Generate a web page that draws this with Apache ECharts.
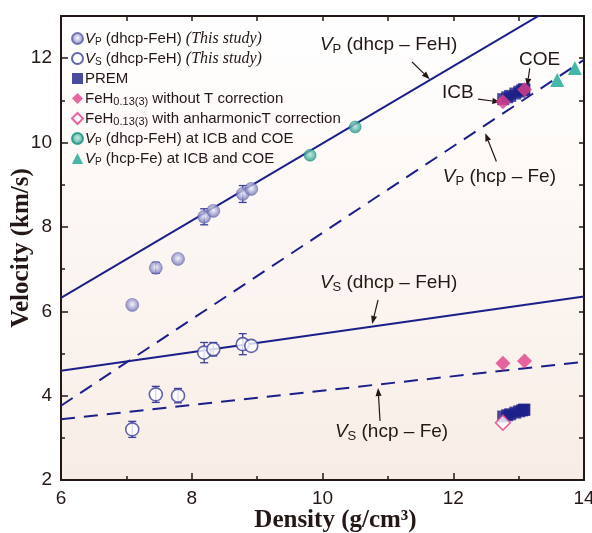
<!DOCTYPE html>
<html>
<head>
<meta charset="utf-8">
<script src="https://cdn.jsdelivr.net/npm/echarts@6/dist/echarts.min.js"></script>
<style>
html, body { margin: 0; padding: 0; background: #fff; }
#chart { width: 592px; height: 533px; }
</style>
</head>
<body>
<div id="chart"></div>
<script>
// dhcp-FeH, this study
const studyDensity = [7.09, 7.45, 7.79, 8.19, 8.33, 8.78, 8.91]
const studyVp = [6.15, 7.03, 7.24, 8.24, 8.38, 8.78, 8.90]
const studyVpErr = [0, 0.13, 0, 0.19, 0, 0.2, 0]
const studyVs = [3.20, 4.03, 4.00, 5.02, 5.10, 5.22, 5.18]
const studyVsErr = [0.19, 0.19, 0.17, 0.24, 0.16, 0.25, 0]

// PREM inner core
const premDensity = [13.0885, 13.0798, 13.0537, 13.0101, 12.9491, 12.8708, 12.8250, 12.7636]
const premVp = [11.2622, 11.2559, 11.2371, 11.2058, 11.1619, 11.1054, 11.0725, 11.0283]
const premVs = [3.6678, 3.6634, 3.6503, 3.6284, 3.5977, 3.5582, 3.5352, 3.5043]

// FeH0.13(3) at ICB and COE
const fehDensity = [12.76, 13.09]
const fehVp = [10.97, 11.26]
const fehVs = [4.77, 4.82]
const anhDensity = [12.76]
const anhVs = [3.36]

// Vp extrapolated to ICB and COE
const dhcpIcbDensity = [9.81, 10.50]
const dhcpIcbVp = [9.70, 10.37]
const hcpIcbDensity = [13.59, 13.86]
const hcpIcbVp = [11.48, 11.77]

// fit lines
const fitDensity = [6, 14]
const vpDhcpFit = [6.32, 13.64]
const vpHcpFit = [3.76, 11.96]
const vsDhcpFit = [4.59, 6.35]
const vsHcpFit = [3.44, 4.80]

const xTicks = [6, 8, 10, 12, 14]
const yTicks = [2, 4, 6, 8, 10, 12]

const NAVY = '#1b1f8a'
const INK = '#231815'
const PINK = '#e0408a'
const TEAL = '#17a594'

const pairs = (xs, ys) => xs.map((x, i) => [x, ys[i]])
const bars = (xs, ys, es) => xs.map((x, i) => [x, ys[i] - es[i], ys[i] + es[i]])

const legendText = {
  vpStudy: '{i|V}{s|P} (dhcp-FeH) {t|(This study)}',
  vsStudy: '{i|V}{s|S} (dhcp-FeH) {t|(This study)}',
  prem: 'PREM',
  feh: 'FeH{m|0.13(3)} without T correction',
  fehAnh: 'FeH{m|0.13(3)} with anharmonicT correction',
  dhcpIcb: '{i|V}{s|P} (dhcp-FeH) at ICB and COE',
  hcpIcb: '{i|V}{s|P} (hcp-Fe) at ICB and COE'
}

const richBase = {
  i: { fontStyle: 'italic', fontSize: 15, fontFamily: 'Liberation Sans', color: INK },
  s: { fontSize: 10, fontFamily: 'Liberation Sans', color: INK, verticalAlign: 'bottom', lineHeight: 12 },
  t: { fontStyle: 'italic', fontSize: 16, fontFamily: 'Liberation Serif', color: INK },
  m: { fontSize: 11, fontFamily: 'Liberation Sans', color: INK, verticalAlign: 'bottom', lineHeight: 14 }
}

const fitLine = (ys, dashed) => ({
  type: 'line',
  data: pairs(fitDensity, ys),
  symbol: 'none',
  silent: true,
  clip: true,
  lineStyle: { color: NAVY, width: 2, type: dashed ? [14, 9] : 'solid' },
  z: 2
})

const errSeries = (data) => ({
  type: 'custom',
  data: data,
  encode: { x: 0, y: [1, 2] },
  silent: true,
  z: 3,
  renderItem: (params, api) => {
    const x = api.value(0)
    const lo = api.value(1)
    const hi = api.value(2)
    if (hi - lo < 1e-6) return
    const a = api.coord([x, lo])
    const b = api.coord([x, hi])
    const style = { stroke: '#3c3e9a', lineWidth: 1.3 }
    return {
      type: 'group',
      children: [
        { type: 'line', shape: { x1: a[0], y1: a[1], x2: b[0], y2: b[1] }, style },
        { type: 'line', shape: { x1: a[0] - 4, y1: a[1], x2: a[0] + 4, y2: a[1] }, style },
        { type: 'line', shape: { x1: b[0] - 4, y1: b[1], x2: b[0] + 4, y2: b[1] }, style }
      ]
    }
  }
})

const option = {
  animation: false,
  backgroundColor: '#fff',
  grid: {
    left: 61, right: 8, top: 16, bottom: 53,
    outerBoundsMode: 'none',
    containLabel: false,
    show: true,
    borderWidth: 0,
    backgroundColor: new echarts.graphic.LinearGradient(0, 0, 0, 1, [
      { offset: 0, color: '#ffffff' },
      { offset: 1, color: '#f8ede6' }
    ])
  },
  legend: {
    orient: 'vertical',
    left: 66,
    top: 25,
    itemWidth: 11,
    itemHeight: 11,
    itemGap: 3,
    data: ['vpStudy', 'vsStudy', 'prem', 'feh', 'fehAnh', 'dhcpIcb', 'hcpIcb'],
    formatter: name => legendText[name],
    selectedMode: false,
    textStyle: {
      fontSize: 15,
      fontFamily: 'Liberation Sans',
      color: INK,
      lineHeight: 17,
      padding: [0, 0, 0, -3],
      rich: richBase
    }
  },
  xAxis: [
    {
      type: 'value', min: 6, max: 14, interval: 2,
      name: 'Density (g/cm³)',
      nameLocation: 'middle',
      nameGap: 28,
      nameMoveOverlap: false,
      nameTextStyle: { fontFamily: 'Liberation Serif', fontWeight: 'bold', fontSize: 25, color: INK,
        padding: [0, 0, 0, 26] },
      axisLine: { onZero: false, lineStyle: { color: INK, width: 2 } },
      axisTick: { inside: true, length: 7, lineStyle: { color: INK, width: 1.5 } },
      minorTick: { show: true, splitNumber: 2, length: 4, lineStyle: { color: INK, width: 1.5 } },
      splitLine: { show: false },
      axisLabel: { fontSize: 19, fontFamily: 'Liberation Sans', color: INK, margin: 9,
        formatter: v => xTicks.includes(v) ? String(v) : '' }
    },
    {
      type: 'value', min: 6, max: 14, interval: 1, position: 'top',
      axisLine: { onZero: false, lineStyle: { color: INK, width: 2 } },
      axisTick: { inside: true, length: 5, lineStyle: { color: INK, width: 1.5 } },
      axisLabel: { show: false },
      splitLine: { show: false }
    }
  ],
  yAxis: [
    {
      type: 'value', min: 2, max: 13, interval: 2,
      name: 'Velocity (km/s)',
      nameLocation: 'middle',
      nameGap: 27,
      nameMoveOverlap: false,
      nameTextStyle: { fontFamily: 'Liberation Serif', fontWeight: 'bold', fontSize: 25, color: INK },
      axisLine: { onZero: false, lineStyle: { color: INK, width: 2 } },
      axisTick: { inside: true, length: 7, lineStyle: { color: INK, width: 1.5 } },
      minorTick: { show: true, splitNumber: 2, length: 4, lineStyle: { color: INK, width: 1.5 } },
      splitLine: { show: false },
      axisLabel: { fontSize: 19, fontFamily: 'Liberation Sans', color: INK, margin: 9,
        formatter: v => yTicks.includes(v) ? String(v) : '' }
    },
    {
      type: 'value', min: 2, max: 13, interval: 1, position: 'right',
      axisLine: { onZero: false, lineStyle: { color: INK, width: 2 } },
      axisTick: { inside: true, length: 5, lineStyle: { color: INK, width: 1.5 } },
      axisLabel: { show: false },
      splitLine: { show: false }
    }
  ],
  series: [
    fitLine(vpDhcpFit, false),
    fitLine(vpHcpFit, true),
    fitLine(vsDhcpFit, false),
    fitLine(vsHcpFit, true),
    errSeries(bars(studyDensity, studyVp, studyVpErr)),
    errSeries(bars(studyDensity, studyVs, studyVsErr)),
    {
      name: 'vpStudy', type: 'scatter', symbol: 'circle', symbolSize: 13, z: 4,
      data: pairs(studyDensity, studyVp),
      itemStyle: {
        color: new echarts.graphic.RadialGradient(0.5, 0.45, 0.55, [
          { offset: 0, color: '#f3f3fb' },
          { offset: 1, color: '#6566b0' }
        ]),
        borderColor: '#5d5ea8', borderWidth: 0.6
      }
    },
    {
      name: 'vsStudy', type: 'scatter', symbol: 'circle', symbolSize: 13, z: 4,
      data: pairs(studyDensity, studyVs),
      itemStyle: { color: '#fff', borderColor: '#3c3e9a', borderWidth: 1.6 }
    },
    {
      name: 'prem', type: 'scatter', symbol: 'rect', symbolSize: 12, z: 4,
      data: pairs(premDensity, premVp).concat(pairs(premDensity, premVs)),
      itemStyle: { color: '#1c1f87' }
    },
    {
      name: 'feh', type: 'scatter', symbol: 'diamond', symbolSize: 15, z: 5,
      data: pairs(fehDensity, fehVp).concat(pairs(fehDensity, fehVs)),
      itemStyle: { color: PINK }
    },
    {
      name: 'fehAnh', type: 'scatter', symbol: 'diamond', symbolSize: 15, z: 5,
      data: pairs(anhDensity, anhVs),
      itemStyle: { color: '#fff', borderColor: PINK, borderWidth: 1.5 }
    },
    {
      name: 'dhcpIcb', type: 'scatter', symbol: 'circle', symbolSize: 12, z: 5,
      data: pairs(dhcpIcbDensity, dhcpIcbVp),
      itemStyle: {
        color: new echarts.graphic.RadialGradient(0.5, 0.45, 0.55, [
          { offset: 0, color: '#b5e6da' },
          { offset: 1, color: '#15907f' }
        ]),
        borderColor: '#15907f', borderWidth: 0.6
      }
    },
    {
      name: 'hcpIcb', type: 'scatter', symbol: 'triangle', symbolSize: 14, z: 5,
      data: pairs(hcpIcbDensity, hcpIcbVp),
      itemStyle: { color: TEAL }
    }
  ]
}

const chart = echarts.init(document.getElementById('chart'), null, { renderer: 'canvas' })
chart.setOption(option)

// annotations in data coordinates
const labels = [
  { at: [9.96, 12.31], text: '{i|V}{s|P} (dhcp – FeH)', align: 'left' },
  { at: [11.84, 9.18], text: '{i|V}{s|P} (hcp – Fe)', align: 'left' },
  { at: [9.96, 6.67], text: '{i|V}{s|S} (dhcp – FeH)', align: 'left' },
  { at: [10.19, 3.14], text: '{i|V}{s|S} (hcp – Fe)', align: 'left' },
  { at: [13.32, 11.97], text: 'COE', align: 'center' },
  { at: [12.07, 11.19], text: 'ICB', align: 'center' }
]
const arrows = [
  { from: [11.37, 11.91], to: [11.64, 11.50] },
  { from: [12.66, 9.55], to: [12.49, 10.22] },
  { from: [10.85, 6.27], to: [10.76, 5.70] },
  { from: [10.88, 3.40], to: [10.85, 4.18] },
  { from: [13.17, 11.76], to: [13.13, 11.33] },
  { from: [12.38, 11.03], to: [12.72, 10.96] }
]

const toPx = p => chart.convertToPixel({ seriesIndex: 0 }, p)
const annoRich = {
  i: { fontStyle: 'italic', fontSize: 19, fontFamily: 'Liberation Sans', fill: INK, lineHeight: 22 },
  s: { fontSize: 13, fontFamily: 'Liberation Sans', fill: INK, verticalAlign: 'bottom', lineHeight: 14 }
}
const graphics = []
labels.forEach(l => {
  const p = toPx(l.at)
  graphics.push({
    type: 'text', x: p[0], y: p[1], silent: true,
    style: {
      text: l.text, rich: annoRich,
      fontSize: 19, fontFamily: 'Liberation Sans', fill: INK,
      align: l.align, verticalAlign: 'middle'
    }
  })
})
arrows.forEach(a => {
  const p = toPx(a.from)
  const q = toPx(a.to)
  const ang = Math.atan2(q[1] - p[1], q[0] - p[0])
  const len = 8, half = 3
  const bx = q[0] - len * Math.cos(ang)
  const by = q[1] - len * Math.sin(ang)
  const nx = -Math.sin(ang) * half
  const ny = Math.cos(ang) * half
  graphics.push({
    type: 'line', silent: true,
    shape: { x1: p[0], y1: p[1], x2: bx, y2: by },
    style: { stroke: INK, lineWidth: 1.2 }
  })
  graphics.push({
    type: 'polygon', silent: true,
    shape: { points: [[q[0], q[1]], [bx + nx, by + ny], [bx - nx, by - ny]] },
    style: { fill: INK }
  })
})
chart.setOption({ graphic: graphics })
</script>
</body>
</html>
